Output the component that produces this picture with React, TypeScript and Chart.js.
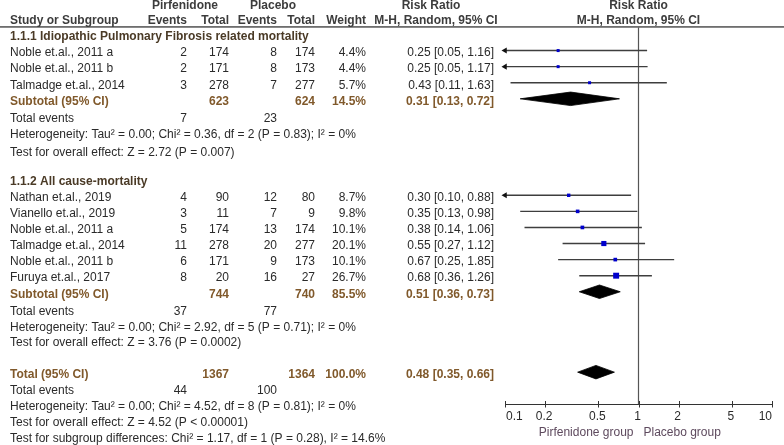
import React, { useEffect, useRef } from "react";
import { Chart, registerables } from "chart.js";

Chart.register(...registerables);

// ---------- data ----------
const group1Title = "1.1.1 Idiopathic Pulmonary Fibrosis related mortality";
const group1Names = ["Noble et.al., 2011 a", "Noble et.al., 2011 b", "Talmadge et.al., 2014"];
const group1PirfEvents = [2, 2, 3];
const group1PirfTotal = [174, 171, 278];
const group1PlacEvents = [8, 8, 7];
const group1PlacTotal = [174, 173, 277];
const group1Weight = [4.4, 4.4, 5.7];
const group1RR = [0.25, 0.25, 0.43];
const group1Lo = [0.05, 0.05, 0.11];
const group1Hi = [1.16, 1.17, 1.63];

const group2Title = "1.1.2 All cause-mortality";
const group2Names = [
  "Nathan et.al., 2019",
  "Vianello et.al., 2019",
  "Noble et.al., 2011 a",
  "Talmadge et.al., 2014",
  "Noble et.al., 2011 b",
  "Furuya et.al., 2017",
];
const group2PirfEvents = [4, 3, 5, 11, 6, 8];
const group2PirfTotal = [90, 11, 174, 278, 171, 20];
const group2PlacEvents = [12, 7, 13, 20, 9, 16];
const group2PlacTotal = [80, 9, 174, 277, 173, 27];
const group2Weight = [8.7, 9.8, 10.1, 20.1, 10.1, 26.7];
const group2RR = [0.3, 0.35, 0.38, 0.55, 0.67, 0.68];
const group2Lo = [0.1, 0.13, 0.14, 0.27, 0.25, 0.36];
const group2Hi = [0.88, 0.98, 1.06, 1.12, 1.85, 1.26];

// subtotal / total rows: [group 1, group 2, overall]
const summaryLabels = ["Subtotal (95% CI)", "Subtotal (95% CI)", "Total (95% CI)"];
const summaryPirfTotal = [623, 744, 1367];
const summaryPlacTotal = [624, 740, 1364];
const summaryWeight = [14.5, 85.5, 100.0];
const summaryRR = [0.31, 0.51, 0.48];
const summaryLo = [0.13, 0.36, 0.35];
const summaryHi = [0.72, 0.73, 0.66];
const summaryPirfEvents = [7, 37, 44];
const summaryPlacEvents = [23, 77, 100];
const heterogeneityTexts = [
  "Heterogeneity: Tau\u00b2 = 0.00; Chi\u00b2 = 0.36, df = 2 (P = 0.83); I\u00b2 = 0%",
  "Heterogeneity: Tau\u00b2 = 0.00; Chi\u00b2 = 2.92, df = 5 (P = 0.71); I\u00b2 = 0%",
  "Heterogeneity: Tau\u00b2 = 0.00; Chi\u00b2 = 4.52, df = 8 (P = 0.81); I\u00b2 = 0%",
];
const overallEffectTexts = [
  "Test for overall effect: Z = 2.72 (P = 0.007)",
  "Test for overall effect: Z = 3.76 (P = 0.0002)",
  "Test for overall effect: Z = 4.52 (P < 0.00001)",
];
const subgroupText = "Test for subgroup differences: Chi\u00b2 = 1.17, df = 1 (P = 0.28), I\u00b2 = 14.6%";

const axisTicks = [0.1, 0.2, 0.5, 1, 2, 5, 10];
const axisLeftLabel = "Pirfenidone group";
const axisRightLabel = "Placebo group";

// ---------- row layout ----------
const g1Rows = group1Names.map((_, i) => 1 + i); // 1..3
const sub1Row = 4;
const g2Start = 9;
const g2Rows = group2Names.map((_, i) => g2Start + 1 + i); // 10..15
const sub2Row = 16;
const totalRow = 21;
const summaryRows = [sub1Row, sub2Row, totalRow];
// small vertical nudges of the statistics lines under each summary row
const statRowShift = [
  [0.05, 0.1, 0.2],
  [0.07, 0.07, 0],
  [0, 0, 0],
];

const allRR = [...group1RR, ...group2RR];
const allLo = [...group1Lo, ...group2Lo];
const allHi = [...group1Hi, ...group2Hi];
const allW = [...group1Weight, ...group2Weight];
const allRows = [...g1Rows, ...g2Rows];

const fmt = (v: number) => v.toFixed(2);
const ciText = (rr: number, lo: number, hi: number) => `${fmt(rr)} [${fmt(lo)}, ${fmt(hi)}]`;

const FONT = "'Liberation Sans', Arial, Helvetica, sans-serif";
const C_HEAD = "#3c3c3c";
const C_GROUP = "#4a3a26";
const C_TEXT = "#2a2a2a";
const C_SUB = "#80592b";
const C_AXISLAB = "#5e4a5e";

const Y_MIN = -0.466;
const Y_MAX = 22.98;
const DIAMOND_H = 0.42;

const tablePlugin = {
  id: "forestTable",
  afterDraw(chart: any) {
    const { ctx, chartArea, scales } = chart;
    const xs = scales.x;
    const ys = scales.y;
    const ty = (r: number) => ys.getPixelForValue(r) + 2.5;
    ctx.save();

    // header rule
    ctx.fillStyle = "#6e6e6e";
    ctx.fillRect(0, 26, chart.width, 1.8);

    const text = (s: string, x: number, y: number, align: CanvasTextAlign, color: string, bold = false) => {
      ctx.font = `${bold ? "bold " : ""}12px ${FONT}`;
      ctx.fillStyle = color;
      ctx.textAlign = align;
      ctx.textBaseline = "middle";
      ctx.fillText(s, x, y);
    };

    const COL_NAME = 10;
    const COL_E1 = 187;
    const COL_T1 = 229;
    const COL_E2 = 277;
    const COL_T2 = 315;
    const COL_W = 366;
    const COL_RR = 494;
    const one = xs.getPixelForValue(1);

    // headers
    const h1 = ty(-2) + 0.5;
    const h2 = ty(-1);
    text("Pirfenidone", 185, h1, "center", C_HEAD, true);
    text("Placebo", 273, h1, "center", C_HEAD, true);
    text("Risk Ratio", 431, h1, "center", C_HEAD, true);
    text("Risk Ratio", one, h1, "center", C_HEAD, true);
    text("Study or Subgroup", COL_NAME, h2, "left", C_HEAD, true);
    text("Events", COL_E1, h2, "right", C_HEAD, true);
    text("Total", COL_T1, h2, "right", C_HEAD, true);
    text("Events", COL_E2, h2, "right", C_HEAD, true);
    text("Total", COL_T2, h2, "right", C_HEAD, true);
    text("Weight", COL_W, h2, "right", C_HEAD, true);
    text("M-H, Random, 95% CI", 436, h2, "center", C_HEAD, true);
    text("M-H, Random, 95% CI", one, h2, "center", C_HEAD, true);

    // group titles
    text(group1Title, COL_NAME, ty(0), "left", C_GROUP, true);
    text(group2Title, COL_NAME, ty(g2Start), "left", C_GROUP, true);

    // studies
    const names = [...group1Names, ...group2Names];
    const pe = [...group1PirfEvents, ...group2PirfEvents];
    const pt = [...group1PirfTotal, ...group2PirfTotal];
    const ce = [...group1PlacEvents, ...group2PlacEvents];
    const ct = [...group1PlacTotal, ...group2PlacTotal];
    names.forEach((n, i) => {
      const y = ty(allRows[i]);
      text(n, COL_NAME, y, "left", C_TEXT);
      text(String(pe[i]), COL_E1, y, "right", C_TEXT);
      text(String(pt[i]), COL_T1, y, "right", C_TEXT);
      text(String(ce[i]), COL_E2, y, "right", C_TEXT);
      text(String(ct[i]), COL_T2, y, "right", C_TEXT);
      text(`${allW[i].toFixed(1)}%`, COL_W, y, "right", C_TEXT);
      text(ciText(allRR[i], allLo[i], allHi[i]), COL_RR, y, "right", C_TEXT);
    });

    // summaries
    summaryRows.forEach((r, k) => {
      const y = ty(r);
      const sh = statRowShift[k];
      text(summaryLabels[k], COL_NAME, y, "left", C_SUB, true);
      text(String(summaryPirfTotal[k]), COL_T1, y, "right", C_SUB, true);
      text(String(summaryPlacTotal[k]), COL_T2, y, "right", C_SUB, true);
      text(`${summaryWeight[k].toFixed(1)}%`, COL_W, y, "right", C_SUB, true);
      text(ciText(summaryRR[k], summaryLo[k], summaryHi[k]), COL_RR, y, "right", C_SUB, true);
      const y1 = ty(r + 1 + sh[0]);
      text("Total events", COL_NAME, y1, "left", C_TEXT);
      text(String(summaryPirfEvents[k]), COL_E1, y1, "right", C_TEXT);
      text(String(summaryPlacEvents[k]), COL_E2, y1, "right", C_TEXT);
      text(heterogeneityTexts[k], COL_NAME, ty(r + 2 + sh[1]), "left", C_TEXT);
      text(overallEffectTexts[k], COL_NAME, ty(r + 3 + sh[2]), "left", C_TEXT);
    });
    text(subgroupText, COL_NAME, ty(totalRow + 4), "left", C_TEXT);

    // x axis
    const ay = Math.round(chartArea.bottom) + 0.5;
    const x0 = xs.getPixelForValue(axisTicks[0]);
    const x1 = xs.getPixelForValue(axisTicks[axisTicks.length - 1]);
    ctx.strokeStyle = "#333";
    ctx.lineWidth = 1;
    ctx.beginPath();
    ctx.moveTo(x0, ay);
    ctx.lineTo(x1, ay);
    axisTicks.forEach((t) => {
      const px = Math.round(xs.getPixelForValue(t)) + 0.5;
      ctx.moveTo(px, ay - 3.5);
      ctx.lineTo(px, ay + 3);
    });
    ctx.stroke();
    axisTicks.forEach((t, i) => {
      const px = xs.getPixelForValue(t);
      const lab = String(t);
      if (i === 0) text(lab, px + 1, ay + 12, "left", C_TEXT);
      else if (i === axisTicks.length - 1) text(lab, px, ay + 12, "right", C_TEXT);
      else text(lab, px - 1, ay + 12, "center", C_TEXT);
    });
    text(axisLeftLabel, one - 5, ay + 28, "right", C_AXISLAB);
    text(axisRightLabel, one + 5, ay + 28, "left", C_AXISLAB);

    ctx.restore();
  },
};

export default function App() {
  const ref = useRef<HTMLCanvasElement>(null);
  useEffect(() => {
    document.body.style.margin = "0";
    const datasets: any[] = [];

    // line of no effect
    datasets.push({
      data: [
        { x: 1, y: Y_MIN },
        { x: 1, y: Y_MAX },
      ],
      showLine: true,
      borderColor: "#555",
      borderWidth: 1.2,
      pointRadius: 0,
      clip: false,
      order: 6,
    });

    // confidence intervals
    allRows.forEach((r, i) => {
      datasets.push({
        data: [
          { x: allLo[i], y: r },
          { x: allHi[i], y: r },
        ],
        showLine: true,
        borderColor: "#3e3e3e",
        borderWidth: 1.4,
        pointRadius: 0,
        order: 5,
      });
    });

    // arrows for CIs running off the left edge
    const arrowPts = allRows
      .map((r, i) => ({ r, lo: allLo[i] }))
      .filter((d) => d.lo <= axisTicks[0])
      .map((d) => ({ x: axisTicks[0], y: d.r }));
    datasets.push({
      data: arrowPts,
      pointStyle: "triangle",
      rotation: -90,
      pointRadius: 3.5,
      backgroundColor: "#111",
      borderWidth: 0,
      clip: false,
      order: 4,
    });

    // study estimates
    datasets.push({
      data: allRows.map((r, i) => ({ x: allRR[i], y: r })),
      pointStyle: "rect",
      pointRadius: allW.map((w) => Math.max(3, 1.15 * Math.sqrt(w)) / 1.414),
      backgroundColor: "#0000cc",
      borderWidth: 0,
      order: 1,
    });

    // diamonds
    summaryRows.forEach((r, k) => {
      datasets.push({
        data: [
          { x: summaryLo[k], y: r },
          { x: summaryRR[k], y: r - DIAMOND_H },
          { x: summaryHi[k], y: r },
          { x: summaryRR[k], y: r + DIAMOND_H },
          { x: summaryLo[k], y: r },
        ],
        showLine: true,
        fill: "shape",
        tension: 0,
        backgroundColor: "#000",
        borderColor: "#000",
        borderWidth: 0.8,
        pointRadius: 0,
        order: 2,
      });
    });

    const chart = new Chart(ref.current as HTMLCanvasElement, {
      type: "scatter",
      data: { datasets },
      options: {
        responsive: false,
        devicePixelRatio: 1,
        animation: false,
        events: [],
        layout: { padding: { left: 505, right: 12, top: 27, bottom: 41 } },
        scales: {
          x: { type: "logarithmic", min: 0.1, max: 10, display: false },
          y: { type: "linear", min: Y_MIN, max: Y_MAX, reverse: true, display: false },
        },
        plugins: { legend: { display: false }, tooltip: { enabled: false } },
      } as any,
      plugins: [tablePlugin],
    });
    return () => chart.destroy();
  }, []);

  return (
    <div style={{ position: "absolute", left: 0, top: 0, width: 784, height: 445, background: "#fff" }}>
      <canvas ref={ref} width={784} height={445} style={{ display: "block", width: 784, height: 445 }} />
    </div>
  );
}
